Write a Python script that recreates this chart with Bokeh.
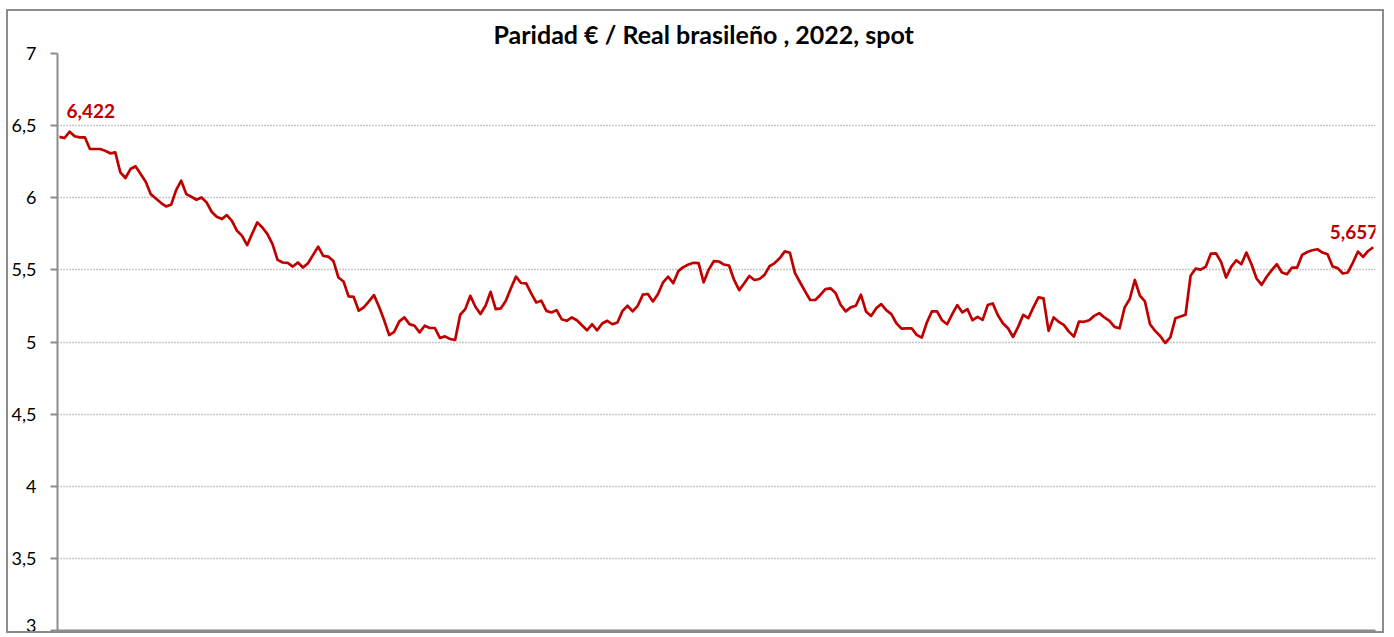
from bokeh.plotting import figure
from bokeh.models import FixedTicker, Label, Range1d
from bokeh.embed import file_html
from bokeh.resources import INLINE

title_text = "Paridad € / Real brasileño , 2022, spot"

# daily EUR/BRL spot, 2022 (trading days)
values = [
    6.422, 6.414, 6.458, 6.426, 6.419, 6.419, 6.338, 6.338, 6.338, 6.326,
    6.308, 6.315, 6.176, 6.137, 6.199, 6.218, 6.164, 6.111, 6.025, 5.995,
    5.965, 5.940, 5.951, 6.053, 6.118, 6.025, 6.007, 5.986, 6.002, 5.968,
    5.903, 5.868, 5.852, 5.880, 5.840, 5.771, 5.736, 5.671, 5.752, 5.829,
    5.794, 5.748, 5.678, 5.569, 5.551,
    5.548, 5.523, 5.551, 5.516, 5.546, 5.604, 5.661, 5.597, 5.592, 5.562,
    5.447, 5.419, 5.316, 5.313, 5.217, 5.240, 5.281, 5.325, 5.244, 5.152,
    5.048, 5.071, 5.143, 5.171, 5.124, 5.113, 5.067, 5.113, 5.097, 5.097,
    5.028, 5.039, 5.021, 5.014, 5.189, 5.228, 5.320, 5.244, 5.194, 5.251,
    5.348, 5.228, 5.233,
    5.286, 5.372, 5.453, 5.409, 5.407, 5.337, 5.274, 5.286, 5.216, 5.205,
    5.221, 5.158, 5.147, 5.170, 5.151, 5.116, 5.081, 5.123, 5.081, 5.128,
    5.147, 5.123, 5.135, 5.216, 5.251, 5.212, 5.251, 5.328, 5.333, 5.281,
    5.333, 5.414, 5.453, 5.407, 5.491, 5.519, 5.537, 5.549, 5.547, 5.414,
    5.502, 5.560, 5.558,
    5.537, 5.530, 5.430, 5.360, 5.407, 5.458, 5.430, 5.437, 5.465, 5.526,
    5.547, 5.581, 5.628, 5.619, 5.477, 5.414, 5.351, 5.291, 5.291, 5.326,
    5.367, 5.372, 5.340, 5.258, 5.212, 5.240, 5.251, 5.328, 5.212, 5.181,
    5.233, 5.263, 5.221, 5.193, 5.130, 5.093, 5.095, 5.095, 5.049, 5.030,
    5.135, 5.212, 5.212,
    5.151, 5.123, 5.193, 5.256, 5.205, 5.228, 5.151, 5.174, 5.153, 5.256,
    5.267, 5.186, 5.130, 5.095, 5.035, 5.105, 5.188, 5.165, 5.240, 5.309,
    5.302, 5.077, 5.170, 5.140, 5.119, 5.072, 5.037, 5.142, 5.140, 5.151,
    5.181, 5.200, 5.170, 5.147, 5.105, 5.095, 5.240, 5.298, 5.430, 5.321,
    5.281, 5.123, 5.077, 5.042,
    4.993, 5.032, 5.164, 5.177, 5.189, 5.459, 5.509, 5.502, 5.523, 5.613,
    5.615, 5.555, 5.447, 5.521, 5.567, 5.539, 5.620, 5.539, 5.440, 5.396,
    5.452, 5.498, 5.539, 5.482, 5.470, 5.516, 5.516, 5.604, 5.624, 5.636,
    5.643, 5.620, 5.608, 5.523, 5.512, 5.475, 5.482, 5.551, 5.627, 5.590,
    5.631, 5.657,
]
y_ticks = [3, 3.5, 4, 4.5, 5, 5.5, 6, 6.5, 7]
y_tick_labels = ["3", "3,5", "4", "4,5", "5", "5,5", "6", "6,5", "7"]

days = list(range(len(values)))

FONT = "Lato"
RED = "#C00000"
GREY = "#8c8c8c"

p = figure(width=1378, height=624, output_backend="svg", toolbar_location=None,
           x_range=Range1d(-0.39, days[-1] + 0.45),
           y_range=Range1d(y_ticks[0], y_ticks[-1]),
           min_border_left=49, min_border_right=11, min_border_top=42,
           min_border_bottom=5, background_fill_color="white",
           border_fill_color="white")
p.styles = {"border": f"2px solid {GREY}", "margin-left": "6px",
            "margin-top": "9px"}
p.outline_line_color = None

p.title.text = title_text
p.title.align = "left"
p.title.offset = 436
p.title.standoff = 9
p.title.text_font = FONT
p.title.text_font_size = "25px"
p.title.text_font_style = "bold"
p.title.text_color = "black"

p.line(days, values, line_color=RED, line_width=2.7, line_join="round")

# y axis
p.yaxis.ticker = FixedTicker(ticks=y_ticks)
p.yaxis.major_label_overrides = {t: l for t, l in zip(y_ticks, y_tick_labels)}
p.yaxis.major_label_text_font = FONT
p.yaxis.major_label_text_font_size = "18px"
p.yaxis.major_label_text_color = "black"
p.yaxis.major_label_standoff = 14
p.yaxis.axis_line_color = GREY
p.yaxis.axis_line_width = 2
p.yaxis.major_tick_line_color = GREY
p.yaxis.major_tick_line_width = 2
p.yaxis.major_tick_out = 7
p.yaxis.major_tick_in = 0
p.yaxis.minor_tick_line_color = None

# x axis: only the baseline is visible in the view
p.xaxis.ticker = FixedTicker(ticks=[])
p.xaxis.major_label_text_font_size = "0px"
p.xaxis.major_label_standoff = 0
p.xaxis.major_tick_out = 0
p.xaxis.minor_tick_line_color = None
p.xaxis.major_tick_line_color = None
p.xaxis.axis_line_color = GREY
p.xaxis.axis_line_width = 2

p.xgrid.grid_line_color = None
p.ygrid.ticker = FixedTicker(ticks=y_ticks)
p.ygrid.grid_line_color = "#8f8f8f"
p.ygrid.grid_line_width = 1.6
p.ygrid.grid_line_dash = "1 2"

def fmt(v):
    return f"{v:.3f}".replace(".", ",")

p.add_layout(Label(x=days[0], y=values[0], text=fmt(values[0]),
                   x_offset=7, y_offset=26, text_align="left",
                   text_baseline="middle", text_font=FONT,
                   text_font_size="19px", text_font_style="bold",
                   text_color=RED))
p.add_layout(Label(x=days[-1], y=values[-1], text=fmt(values[-1]),
                   x_offset=5, y_offset=15, text_align="right",
                   text_baseline="middle", text_font=FONT,
                   text_font_size="19px", text_font_style="bold",
                   text_color=RED))

open("out.html", "w").write(file_html(p, INLINE))
